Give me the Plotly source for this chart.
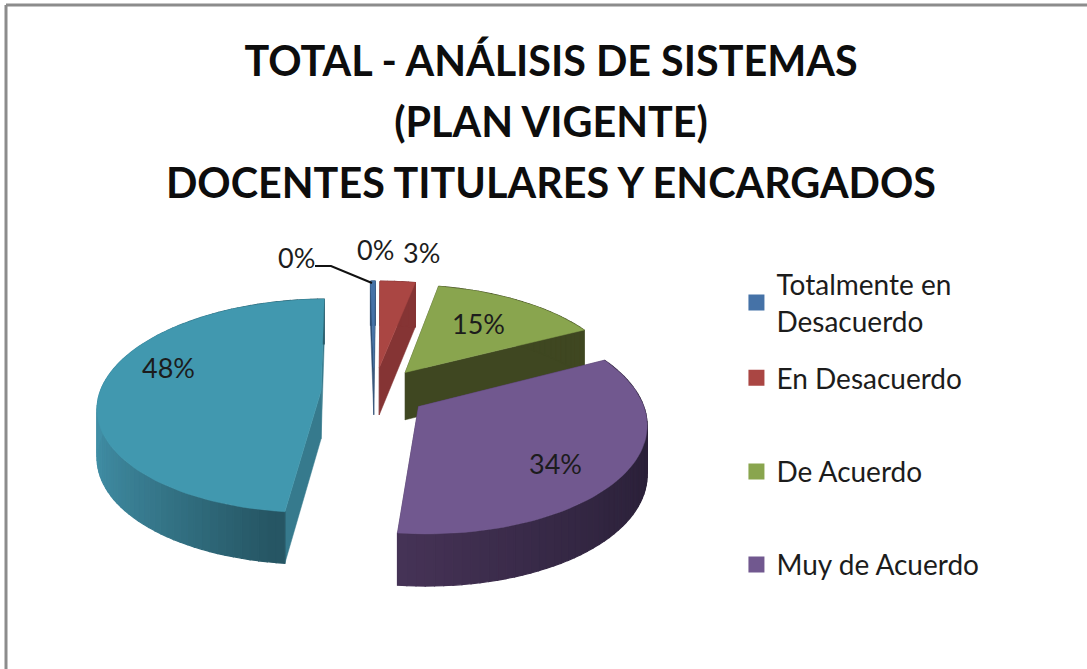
import math
import plotly.graph_objects as go

# ---- data ----
categories = ["Totalmente en Desacuerdo", "En Desacuerdo", "De Acuerdo", "Muy de Acuerdo", "Sin dato"]
values = [0.4, 3.0, 14.4, 34.2, 48.0]
point_labels = ["0%", "0%", "3%", "15%", "34%", "48%"]
legend_labels = ["Totalmente en<br>Desacuerdo", "En Desacuerdo", "De Acuerdo", "Muy de Acuerdo"]
title_lines = ["TOTAL - ANÁLISIS DE SISTEMAS", "(PLAN VIGENTE)", "DOCENTES TITULARES Y ENCARGADOS"]

# ---- style ----
top_colors = ["#4572A7", "#AA4643", "#89A54E", "#71588F", "#4198AF"]
edge_colors = ["#2f4f75", "#853434", "#3f4721", "#463357", "#367a8d"]
wall_from = ["#2f4f75", "#853434", "#3f4721", "#463357", "#418FA6"]
wall_to = ["#2f4f75", "#853434", "#3f4721", "#2a2038", "#265664"]
FONT = "Lato"
TEXT = "#1c1c1c"

# ---- projection of the tilted pie ----
CX, CY, RX, RY, K, EXPLODE, DEPTH, ROT = 374, 392, 221, 105, 0.14, 0.24, 48, -1.0


def project(u, v, down=False):
    d = 1 + K * v
    x = CX + RX * u / d
    y = CY - RY * v / d
    if down:
        y += DEPTH / (1 + 0.07 * v)
    return x, y


def mix(a, b, t):
    ca = [int(a[i:i + 2], 16) for i in (1, 3, 5)]
    cb = [int(b[i:i + 2], 16) for i in (1, 3, 5)]
    return "#" + "".join(f"{round(p + (q - p) * t):02x}" for p, q in zip(ca, cb))


fig = go.Figure()


def poly(points, color, width=0.5):
    fig.add_trace(go.Scatter(
        x=[p[0] for p in points] + [points[0][0]],
        y=[p[1] for p in points] + [points[0][1]],
        mode="lines", fill="toself", fillcolor=color,
        line=dict(color=color, width=width),
        hoverinfo="skip", showlegend=False))


total = sum(values)
spans = []
acc = 0.0
for v in values:
    spans.append((acc / total * 360 + ROT, (acc + v) / total * 360 + ROT))
    acc += v

for idx in [4, 0, 1, 2, 3]:
    a0, a1 = spans[idx]
    mid = math.radians((a0 + a1) / 2)
    eu, ev = EXPLODE * math.sin(mid), EXPLODE * math.cos(mid)
    n = max(4, int((a1 - a0) / 2))
    rim = []
    for i in range(n + 1):
        a = math.radians(a0 + (a1 - a0) * i / n)
        rim.append((eu + math.sin(a), ev + math.cos(a)))
    # radial side walls
    for uv in (rim[0], rim[-1]):
        poly([project(eu, ev), project(*uv), project(*uv, down=True), project(eu, ev, down=True)],
             edge_colors[idx])
    # outer wall, in bands so that its shade changes along the rim
    for i in range(n):
        r = rim[i][0] - eu
        if idx == 3:
            t = (r + 0.1) / 1.1          # darkens to the right
        else:
            t = (r + 1) / 0.85           # darkens to the right
        t = max(0, min(1, t))
        poly([project(*rim[i]), project(*rim[i + 1]),
              project(*rim[i + 1], down=True), project(*rim[i], down=True)],
             mix(wall_from[idx], wall_to[idx], t), width=1.2)
    # top face
    poly([project(eu, ev)] + [project(*p) for p in rim], top_colors[idx])

# frame
fig.add_shape(type="line", x0=6, x1=1087, y0=5, y1=5, line=dict(color="#8c8c8c", width=3), layer="above")
fig.add_shape(type="line", x0=6, x1=6, y0=5, y1=669, line=dict(color="#8c8c8c", width=3), layer="above")

# leader line of the first label
fig.add_trace(go.Scatter(x=[315, 331, 372], y=[266, 266, 283], mode="lines",
                         line=dict(color="#111111", width=2), hoverinfo="skip", showlegend=False))

# data labels
label_xy = [(296, 257), (375, 249), (421, 252), (478, 323), (555, 463), (168, 367)]
for text, (x, y) in zip(point_labels, label_xy):
    fig.add_annotation(x=x, y=y, text=text, showarrow=False, xanchor="center", yanchor="middle",
                       font=dict(family=FONT, size=27, color=TEXT))

# legend: one small legend per entry
legend_pos = [(0.6775, 0.4835), (0.6775, 0.3975), (0.6775, 0.2575), (0.6775, 0.1185)]
layout_legends = {}
for i, name in enumerate(legend_labels):
    key = "legend" if i == 0 else f"legend{i + 1}"
    fig.add_trace(go.Scatter(x=[-50], y=[-50], mode="markers", name=name, legend=key,
                             marker=dict(symbol="square", size=18, color=top_colors[i]),
                             hoverinfo="skip"))
    layout_legends[key] = dict(x=legend_pos[i][0], y=legend_pos[i][1], xanchor="left", yanchor="bottom",
                               font=dict(family=FONT, size=28, color=TEXT), bgcolor="rgba(0,0,0,0)",
                               itemwidth=30)

title_text = "<br>".join(f'<span style="font-size:41.3px">{s}</span>' for s in title_lines)
fig.update_layout(
    width=1087, height=669, autosize=False,
    margin=dict(l=0, r=0, t=0, b=0),
    paper_bgcolor="white", plot_bgcolor="white",
    showlegend=True,
    title=dict(text=title_text, x=551 / 1087, xanchor="center", xref="paper", y=0.887, yanchor="top",
               font=dict(family=FONT, size=47, color="#0d0d0d", weight="bold")),
    xaxis=dict(range=[0, 1087], visible=False, fixedrange=True),
    yaxis=dict(range=[669, 0], visible=False, fixedrange=True),
    **layout_legends,
)
fig.write_html("out.html", config=dict(displayModeBar=False),
               post_script="document.body.style.margin='0';document.body.style.overflow='hidden';")
